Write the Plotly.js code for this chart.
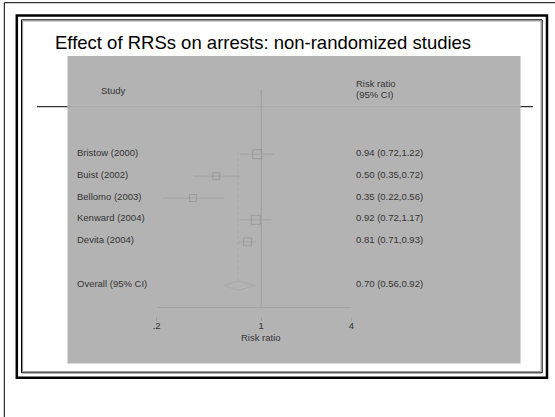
<!DOCTYPE html>
<html>
<head>
<meta charset="utf-8">
<script src="https://cdn.plot.ly/plotly-3.0.1.min.js"></script>
<style>html,body{margin:0;padding:0;background:#fff;}#chart{width:555px;height:417px;}</style>
</head>
<body>
<div id="chart"></div>
<script>
// ---- data ----
const studies = ["Bristow (2000)", "Buist (2002)", "Bellomo (2003)", "Kenward (2004)", "Devita (2004)"];
const rr      = [0.94, 0.50, 0.35, 0.92, 0.81];
const ciLow   = [0.72, 0.35, 0.22, 0.72, 0.71];
const ciHigh  = [1.22, 0.72, 0.56, 1.17, 0.93];
const rowPos  = [1, 2, 3, 4, 5];
const weightSize = [9, 7, 7, 9, 8];
const overallLabel = "Overall (95% CI)";
const overallRR = 0.70, overallLow = 0.56, overallHigh = 0.92;
const overallRow = 7;
const tickVals = [0.2, 1, 4];
const tickText = [".2", "1", "4"];
const xTitle = "Risk ratio";

const W = 555, H = 417;
const X = p => p / W;
const Y = p => 1 - p / H;
const FONT = "Liberation Sans, Arial, Helvetica, sans-serif";
const TXT = "#333333";
const fmt = v => v.toFixed(2);

// CI lines
const ciX = [], ciY = [];
studies.forEach((s, i) => { ciX.push(ciLow[i], ciHigh[i], null); ciY.push(rowPos[i], rowPos[i], null); });

const traces = [
  // x axis line from .2 to 4
  {x: [tickVals[0], tickVals[tickVals.length - 1]], y: [8, 8], mode: "lines", line: {color: "#a2a2a2", width: 1}, hoverinfo: "skip", showlegend: false},
  // null line
  {x: [1, 1], y: [-1.96, 8], mode: "lines", line: {color: "#a0a0a0", width: 1}, hoverinfo: "skip", showlegend: false},
  // overall dotted line
  {x: [overallRR, overallRR], y: [0.9, overallRow - 0.22], mode: "lines", line: {color: "#a6a6a6", width: 1, dash: "dot"}, hoverinfo: "skip", showlegend: false},
  // CI lines
  {x: ciX, y: ciY, mode: "lines", line: {color: "#a2a2a2", width: 1}, hoverinfo: "skip", showlegend: false},
  // squares
  {x: rr, y: rowPos, mode: "markers", marker: {symbol: "square-open", size: weightSize, color: "#929292", line: {width: 1, color: "#929292"}}, showlegend: false},
  // diamond
  {x: [overallLow, overallRR, overallHigh, overallRR, overallLow],
   y: [overallRow, overallRow - 0.21, overallRow, overallRow + 0.21, overallRow],
   mode: "lines", line: {color: "#a8a8a8", width: 1}, showlegend: false}
];

const annotations = [];
function addText(text, x, y, yref, yshift) {
  annotations.push({text: text, xref: "paper", x: x, xanchor: "left", yref: yref, y: y, yanchor: "middle", yshift: yshift || 0, showarrow: false, font: {family: FONT, size: 9.5, color: TXT}});
}
studies.forEach((s, i) => {
  addText(s, X(75), rowPos[i], "y", 2);
  addText(fmt(rr[i]) + " (" + fmt(ciLow[i]) + "," + fmt(ciHigh[i]) + ")", X(354), rowPos[i], "y", 2);
});
addText(overallLabel, X(75), overallRow, "y", 2);
addText(fmt(overallRR) + " (" + fmt(overallLow) + "," + fmt(overallHigh) + ")", X(354), overallRow, "y", 2);
addText("Study", X(99), Y(90.7), "paper");
addText("Risk ratio", X(354), Y(83.3), "paper");
addText("(95% CI)", X(354), Y(94.3), "paper");
annotations.push({text: xTitle, xref: "x", x: 0, xanchor: "center", yref: "paper", y: Y(337.5), yanchor: "middle", showarrow: false, font: {family: FONT, size: 9.5, color: TXT}});

const shapes = [
  // outer thin frame
  {type: "line", xref: "paper", yref: "paper", x0: X(4.3), x1: X(4.3), y0: 0, y1: Y(2.7), line: {color: "#000", width: 1}},
  {type: "line", xref: "paper", yref: "paper", x0: X(4.3), x1: 1, y0: Y(2.7), y1: Y(2.7), line: {color: "#000", width: 1}},
  // double border
  {type: "rect", xref: "paper", yref: "paper", x0: X(16.8), x1: X(547), y0: Y(377.8), y1: Y(15.5), line: {color: "#000", width: 2.5}},
  {type: "rect", xref: "paper", yref: "paper", x0: X(21.5), x1: X(542.2), y0: Y(372.8), y1: Y(19.8), line: {color: "#000", width: 1}},
  {type: "rect", xref: "paper", yref: "paper", x0: X(22.6), x1: X(541.1), y0: Y(371.7), y1: Y(20.9), line: {color: "#8a8a8a", width: 1}},
  // black rule behind plot image
  {type: "line", layer: "below", xref: "paper", yref: "paper", x0: X(37), x1: X(533), y0: Y(106.7), y1: Y(106.7), line: {color: "#000", width: 1}},
  // gray plot image background
  {type: "rect", layer: "below", xref: "paper", yref: "paper", x0: X(67.5), x1: X(520.5), y0: Y(363.5), y1: Y(56), fillcolor: "#b3b3b3", line: {width: 0}},
  // faint rule inside gray
  {type: "line", layer: "below", xref: "paper", yref: "paper", x0: X(67.5), x1: X(520.5), y0: Y(106.7), y1: Y(106.7), line: {color: "#a7a7a7", width: 1}}
];

const layout = {
  width: W, height: H,
  margin: {l: 0, r: 0, t: 0, b: 0, pad: 0},
  paper_bgcolor: "#ffffff",
  plot_bgcolor: "rgba(0,0,0,0)",
  showlegend: false,
  title: {text: "Effect of RRSs on arrests: non-randomized studies", x: X(55), xanchor: "left", y: Y(42.5), yanchor: "middle", font: {family: FONT, size: 18.5, color: "#000"}},
  xaxis: {
    type: "log", domain: [X(156.7), X(351.3)], range: [Math.log10(0.2), Math.log10(4)],
    showline: false, showgrid: false, zeroline: false,
    tickmode: "array", tickvals: tickVals, ticktext: tickText,
    ticks: "outside", ticklen: 4, tickcolor: "#a0a0a0", tickwidth: 1,
    ticklabelstandoff: -3,
    tickfont: {family: FONT, size: 9.5, color: TXT},
    fixedrange: true
  },
  yaxis: {
    domain: [Y(316), 1], range: [(316 - 132.3) / 21.9, (0 - 132.3) / 21.9],
    visible: false, showgrid: false, zeroline: false, fixedrange: true
  },
  shapes: shapes,
  annotations: annotations
};

Plotly.newPlot("chart", traces, layout, {displayModeBar: false, staticPlot: true});
</script>
</body>
</html>
